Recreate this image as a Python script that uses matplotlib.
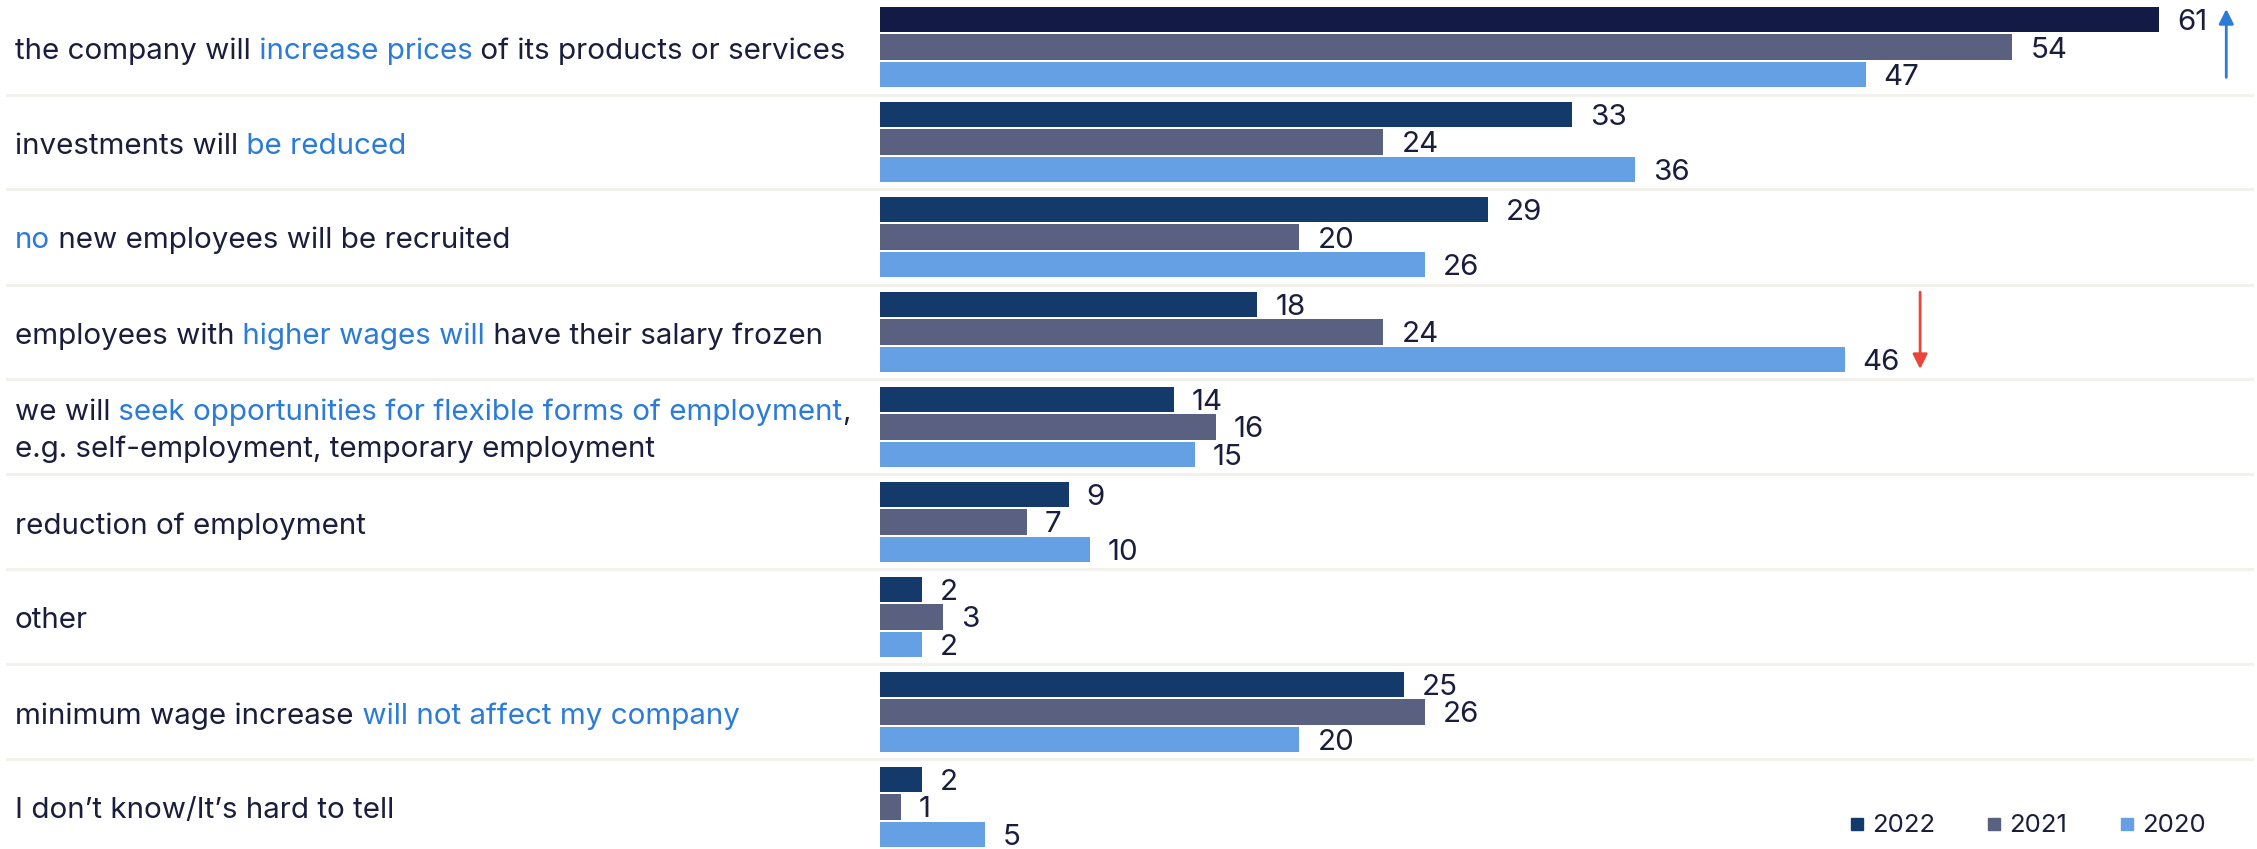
import matplotlib.pyplot as plt
from matplotlib import transforms
from matplotlib.lines import Line2D

plt.rcParams['font.family'] = ['Inter', 'DejaVu Sans']

# Data (percent of answers)
years = ['2022', '2021', '2020']
v2022 = [61, 33, 29, 18, 14, 9, 2, 25, 2]
v2021 = [54, 24, 20, 24, 16, 7, 3, 26, 1]
v2020 = [47, 36, 26, 46, 15, 10, 2, 20, 5]

# category labels: lines of (text, highlighted) pieces
labels = [
    [[("the company will", 0), (" increase prices", 1), (" of its products or services", 0)]],
    [[("investments will", 0), (" be reduced", 1)]],
    [[("no", 1), (" new employees will be recruited", 0)]],
    [[("employees with", 0), (" higher wages will", 1), (" have their salary frozen", 0)]],
    [[("we will", 0), (" seek opportunities for flexible forms of employment", 1), (",", 0)],
     [("e.g. self-employment, temporary employment", 0)]],
    [[("reduction of employment", 0)]],
    [[("other", 0)]],
    [[("minimum wage increase", 0), (" will not affect my company", 1)]],
    [[("I don’t know/It’s hard to tell", 0)]],
]

c2022 = '#133a6b'
c2022_top = '#121a45'
c2021 = '#596080'
c2020 = '#64a0e3'
txt = '#1a1d3c'
blue = '#2b7bd9'
red = '#e8463a'
fs = 21.3

W, H = 2257, 849
fig = plt.figure(figsize=(W / 100, H / 100), dpi=100)
ax = fig.add_axes([880 / W, 0, 1 - 880 / W, 1])
ax.set_xlim(0, (W - 880) / 20.97)
ax.set_ylim((H - 47) / 95, -47 / 95)
ax.axis('off')

n = len(v2022)
ys = list(range(n))
h = 0.268
off = 0.2895
cols22 = [c2022_top] + [c2022] * (n - 1)
series = [(v2022, cols22, -off), (v2021, c2021, 0), (v2020, c2020, off)]
for vals, col, o in series:
    yy = [y + o for y in ys]
    ax.barh(yy, vals, height=h, color=col)
    for y, v in zip(yy, vals):
        ax.annotate(str(v), xy=(v, y), xytext=(18, -3), textcoords='offset pixels',
                    va='center', ha='left', fontsize=fs, color=txt)

# separators
trans = transforms.blended_transform_factory(fig.transFigure, ax.transData)
for i in range(n - 1):
    ax.plot([7 / W, 2252 / W], [i + 0.5, i + 0.5], transform=trans,
            color='#f2f1ec', lw=2.2, clip_on=False)

# category labels with highlighted pieces
ltrans = transforms.offset_copy(trans, fig=fig, y=-4, units='dots')
fig.canvas.draw()
for i, lines in enumerate(labels):
    nl = len(lines)
    for j, pieces in enumerate(lines):
        y = i + (j - (nl - 1) / 2) * 0.38
        prev = None
        for s, hl in pieces:
            col = blue if hl else txt
            if prev is None:
                prev = ax.text(15 / W, y, s, transform=ltrans, va='center', ha='left',
                               fontsize=fs, color=col)
            else:
                prev = ax.annotate(s, xy=(1, 0), xycoords=prev, va='bottom', ha='left',
                                   fontsize=fs, color=col)

# trend arrows
ax.annotate('', xy=(v2022[0] + 3.2, -0.40), xytext=(v2022[0] + 3.2, 0.32),
            arrowprops=dict(arrowstyle='-|>', color=blue, lw=2, mutation_scale=22,
                            shrinkA=0, shrinkB=0))
ax.annotate('', xy=(v2020[3] + 3.6, 3 + 0.39), xytext=(v2020[3] + 3.6, 3 - 0.42),
            arrowprops=dict(arrowstyle='-|>', color=red, lw=2, mutation_scale=22,
                            shrinkA=0, shrinkB=0))

handles = [Line2D([], [], marker='s', ls='', color=c, markersize=9)
           for c in [c2022, c2021, c2020]]
leg = fig.legend(handles, years, loc='center right', bbox_to_anchor=(2216 / W, 1 - 826 / H),
                 ncol=3, frameon=False, fontsize=18.5, handlelength=0.6, handletextpad=0.3,
                 columnspacing=2.0, borderaxespad=0)
for t in leg.get_texts():
    t.set_color(txt)

fig.savefig('out.png', dpi=100)
